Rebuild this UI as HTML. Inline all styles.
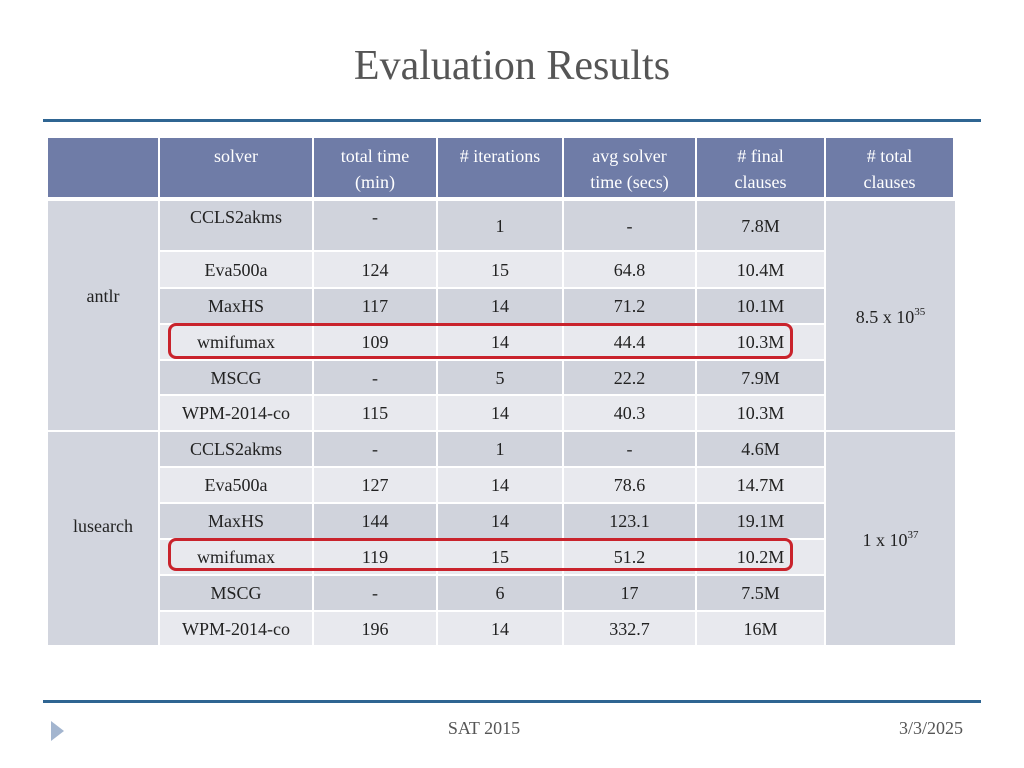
<!DOCTYPE html>
<html><head><meta charset="utf-8">
<style>
body{margin:0;width:1024px;height:768px;background:#fff;position:relative;overflow:hidden;font-family:"Liberation Serif",serif;}
.c{position:absolute;display:flex;align-items:center;justify-content:center;text-align:center;font-size:18px;color:#222;line-height:26px;box-sizing:border-box;}
.h{background:#6f7ca7;color:#fff;align-items:flex-start;padding-top:5px;}
.d{background:#d0d3dc;}
.l{background:#e8e9ee;}
.g{background:#d2d5de;}
sup{font-size:11px;line-height:0;vertical-align:8px;}
</style></head><body>
<div style="position:absolute;left:0;width:1024px;top:42px;text-align:center;font-size:42px;color:#555;">Evaluation Results</div>
<div style="position:absolute;left:43px;top:119px;width:938px;height:3px;background:#2f6592;"></div>
<div id="tbl"></div>
<div style="position:absolute;left:168px;top:323px;width:625px;height:36px;border:3px solid #c9232c;border-radius:8px;box-sizing:border-box;"></div>
<div style="position:absolute;left:168px;top:538px;width:625px;height:33px;border:3px solid #c9232c;border-radius:8px;box-sizing:border-box;"></div>
<div style="position:absolute;left:43px;top:700px;width:938px;height:3px;background:#2f6592;"></div>
<div style="position:absolute;left:51px;top:721px;width:0;height:0;border-top:10px solid transparent;border-bottom:10px solid transparent;border-left:13px solid #a3b5cf;"></div>
<div style="position:absolute;left:384px;width:200px;top:718px;text-align:center;font-size:18px;color:#555;">SAT 2015</div>
<div style="position:absolute;left:800px;width:163px;top:718px;text-align:right;font-size:18px;color:#555;">3/3/2025</div>
<script>
const headers=["","solver","total time<br>(min)","# iterations","avg solver<br>time (secs)","# final<br>clauses","# total<br>clauses"];
const solvers=["CCLS2akms","Eva500a","MaxHS","wmifumax","MSCG","WPM-2014-co","CCLS2akms","Eva500a","MaxHS","wmifumax","MSCG","WPM-2014-co"];
const totalTime=["-","124","117","109","-","115","-","127","144","119","-","196"];
const iterations=["1","15","14","14","5","14","1","14","14","15","6","14"];
const avgTime=["-","64.8","71.2","44.4","22.2","40.3","-","78.6","123.1","51.2","17","332.7"];
const finalClauses=["7.8M","10.4M","10.1M","10.3M","7.9M","10.3M","4.6M","14.7M","19.1M","10.2M","7.5M","16M"];
const groups=["antlr","lusearch"];
const totals=["8.5 x 10<sup>35</sup>","1 x 10<sup>37</sup>"];
const xs=[48,160,314,438,564,697,826,955];
const ys=[201,252,289,325,361,396,432,468,504,540,576,612,647];
const T=document.getElementById('tbl');
function cell(x0,x1,y0,y1,cls,html,name){
  const e=document.createElement('div');
  e.className='c '+cls;
  e.style.left=x0+'px';e.style.top=y0+'px';e.style.width=(x1-x0)+'px';e.style.height=(y1-y0)+'px';
  e.innerHTML='<span>'+html+'</span>';
  
  
  T.appendChild(e);return e;
}
for(let i=0;i<7;i++) cell(xs[i],xs[i+1]-2,138,197,'h',headers[i],'header-cell');
const cols=[solvers,totalTime,iterations,avgTime,finalClauses];
for(let r=0;r<12;r++){
  const cls=r%2===0?'d':'l';
  for(let c=0;c<5;c++){
    const e=cell(xs[c+1],xs[c+2]-2,ys[r],ys[r+1]-2,cls,cols[c][r],'table-cell');
    if(r===0&&c<2){e.style.alignItems='flex-start';e.style.paddingTop='3px';}
  }
}
for(let g=0;g<2;g++){
  const y0=ys[g*6],y1=ys[g*6+6]-2;
  const a=cell(xs[0],xs[1]-2,y0,y1,'g',groups[g],'group-label');
  a.style.alignItems='flex-start';a.style.paddingTop=(g===0?82:81)+'px';
  const b=cell(xs[6],xs[7],y0,y1,'g',totals[g],'total-clauses');
  b.style.alignItems='flex-start';b.style.paddingTop=(g===0?103:95)+'px';
}
</script>
</body></html>
